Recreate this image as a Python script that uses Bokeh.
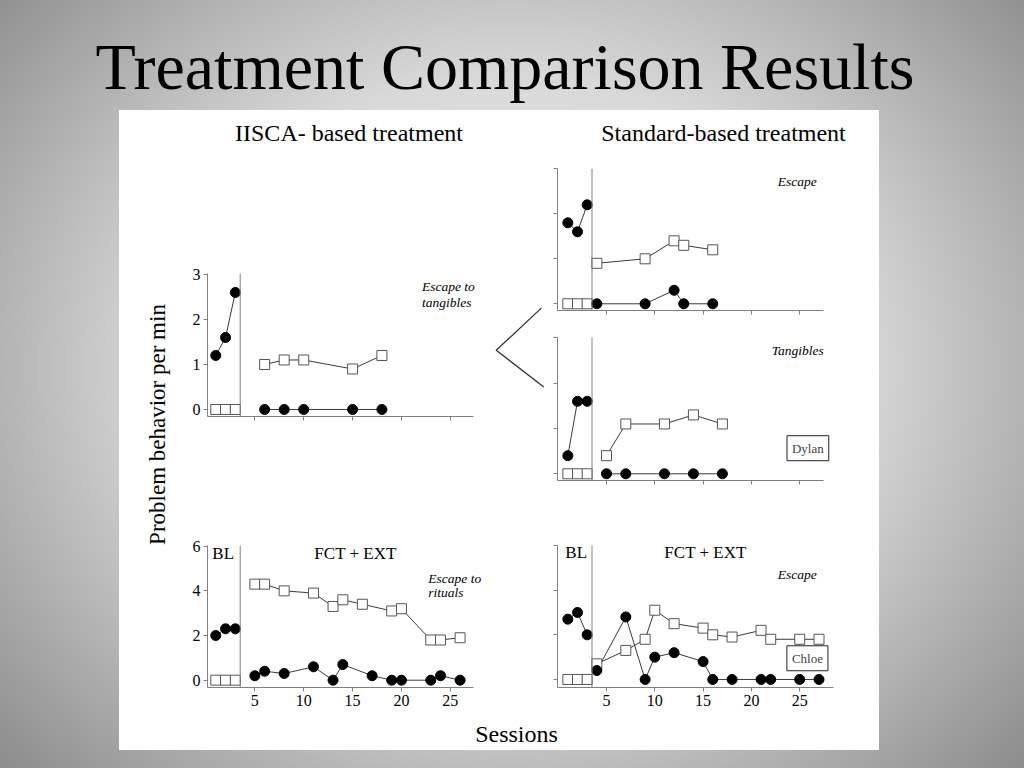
import numpy as np
from bokeh.plotting import figure
from bokeh.layouts import column, row
from bokeh.models import (Range1d, Span, Label, FixedTicker, Spacer,
                          CustomJSTickFormatter, GlobalInlineStyleSheet)
from bokeh.core.properties import value
from bokeh.embed import file_html
from bokeh.resources import INLINE

# ---------------- data (filled circles = problem behavior, open squares = FCR) -------------
x_ticks = [5, 10, 15, 20, 25]
yticks_small = [0, 1, 2, 3]
yticks_large = [0, 2, 4, 6]
phase_change = 3.5

# Dylan - IISCA-based treatment (escape to tangibles)
d_iisca_bl_x = [1, 2, 3]
d_iisca_bl_pb = [1.2, 1.6, 2.6]
d_iisca_bl_fcr = [0, 0, 0]
d_iisca_tx_x = [6, 8, 10, 15, 18]
d_iisca_tx_pb = [0, 0, 0, 0, 0]
d_iisca_tx_fcr = [1.0, 1.1, 1.1, 0.9, 1.2]

# Dylan - standard-based treatment, escape
d_esc_bl_x = [1, 2, 3]
d_esc_bl_pb = [1.8, 1.6, 2.2]
d_esc_bl_fcr = [0, 0, 0]
d_esc_tx_x = [4, 9, 12, 13, 16]
d_esc_tx_pb = [0, 0, 0.3, 0, 0]
d_esc_tx_fcr = [0.9, 1.0, 1.4, 1.3, 1.2]

# Dylan - standard-based treatment, tangibles
d_tan_bl_x = [1, 2, 3]
d_tan_bl_pb = [0.4, 1.6, 1.6]
d_tan_bl_fcr = [0, 0, 0]
d_tan_tx_x = [5, 7, 11, 14, 17]
d_tan_tx_pb = [0, 0, 0, 0, 0]
d_tan_tx_fcr = [0.4, 1.1, 1.1, 1.3, 1.1]

# Chloe - IISCA-based treatment (escape to rituals)
c_iisca_bl_x = [1, 2, 3]
c_iisca_bl_pb = [2.0, 2.3, 2.3]
c_iisca_bl_fcr = [0, 0, 0]
c_iisca_tx_fcr_x = [5, 6, 8, 11, 13, 14, 16, 19, 20, 23, 24, 26]
c_iisca_tx_fcr = [4.3, 4.3, 4.0, 3.9, 3.3, 3.6, 3.4, 3.1, 3.2, 1.8, 1.8, 1.9]
c_iisca_tx_pb_x = [5, 6, 8, 11, 13, 14, 17, 19, 20, 23, 24, 26]
c_iisca_tx_pb = [0.2, 0.4, 0.3, 0.6, 0, 0.7, 0.2, 0, 0, 0, 0.2, 0]

# Chloe - standard-based treatment (escape)
c_std_bl_x = [1, 2, 3]
c_std_bl_pb = [2.7, 3.0, 2.0]
c_std_bl_fcr = [0, 0, 0]
c_std_tx_x = [4, 7, 9, 10, 12, 15, 16, 18, 21, 22, 25, 27]
c_std_tx_fcr = [0.7, 1.3, 1.8, 3.1, 2.5, 2.3, 2.0, 1.9, 2.2, 1.8, 1.8, 1.8]
c_std_tx_pb = [0.4, 2.8, 0, 1.0, 1.2, 0.8, 0, 0, 0, 0, 0, 0]

# ---------------- styles ----------------
SERIF = "Liberation Serif"
AXIS = "#808080"
LINE = "#3a3a3a"


def clear(p):
    p.outline_line_color = None
    p.background_fill_alpha = 0
    p.border_fill_alpha = 0


def deco_fig(w, h):
    p = figure(width=w, height=h, x_range=Range1d(0, w), y_range=Range1d(h, 0),
               toolbar_location=None, output_backend="svg", min_border=0,
               x_axis_type=None, y_axis_type=None)
    clear(p)
    return p


def make_panel(w, h, mb, xr, xbounds, yr, yticks, show_x, show_y):
    p = figure(width=w, height=h, x_range=Range1d(*xr), y_range=Range1d(*yr),
               toolbar_location=None, output_backend="svg",
               min_border_left=mb[0], min_border_right=mb[1],
               min_border_top=mb[2], min_border_bottom=mb[3])
    p.grid.visible = False
    clear(p)
    for ax, show, ticks in ((p.xaxis[0], show_x, x_ticks), (p.yaxis[0], show_y, yticks)):
        ax.ticker = FixedTicker(ticks=ticks, minor_ticks=[])
        ax.axis_line_color = AXIS
        ax.axis_line_width = 1
        ax.major_tick_line_color = AXIS
        ax.major_tick_out = 4
        ax.major_tick_in = 0
        ax.minor_tick_out = 0
        ax.minor_tick_in = 0
        ax.major_label_text_font = SERIF
        ax.major_label_text_font_size = "16px"
        ax.major_label_text_color = "black"
        ax.major_label_standoff = 3
        if not show:
            ax.formatter = CustomJSTickFormatter(code="return ''")
            ax.major_label_text_font_size = "0px"
            ax.major_label_standoff = 0
    p.xaxis[0].bounds = xbounds
    p.add_layout(Span(location=phase_change, dimension="height",
                      line_color=AXIS, line_width=1))
    return p


def series(p, bl_x, bl_pb, bl_fcr, fcr_x, fcr, pb_x, pb):
    for xs, ys in ((bl_x, bl_pb), (bl_x, bl_fcr), (fcr_x, fcr), (pb_x, pb)):
        p.line(xs, ys, line_color=LINE, line_width=1)
    for xs, ys in ((bl_x, bl_fcr), (fcr_x, fcr)):
        p.scatter(xs, ys, marker="square", size=10, fill_color="white",
                  line_color="#555555", line_width=1)
    for xs, ys in ((bl_x, bl_pb), (pb_x, pb)):
        p.scatter(xs, ys, marker="circle", size=10, fill_color="black",
                  line_color="black")


def txt(p, x, y, s, size, italic=False, align="center", baseline="middle"):
    p.text(x=[x], y=[y], text=[s], text_font=value(SERIF), text_font_size=size,
           text_font_style="italic" if italic else "normal", text_color="black",
           text_align=align, text_baseline=baseline)


def box_label(p, x, y, s):
    p.add_layout(Label(x=x, y=y, text=s, text_font=SERIF, text_font_size="13px",
                       text_align="center", text_baseline="middle",
                       border_line_color="#222222", border_line_width=1,
                       background_fill_color="white", padding=5))


# ---------------- subplots ----------------
# top-left: Dylan IISCA
tl = make_panel(305, 330, (22, 5, 113, 74), (0.153, 28.6), (0.153, 27.35),
                (-0.156, 3.022), yticks_small, False, True)
series(tl, d_iisca_bl_x, d_iisca_bl_pb, d_iisca_bl_fcr,
       d_iisca_tx_x, d_iisca_tx_fcr, d_iisca_tx_x, d_iisca_tx_pb)
txt(tl, 22.1, 2.73, "Escape to", "13.5px", italic=True, align="left")
txt(tl, 22.1, 2.38, "tangibles", "13.5px", italic=True, align="left")

# top-right A: Dylan standard escape
tra = make_panel(334, 165, (12, 47, 8, 15), (-0.072, 28.4), (-0.072, 27.46),
                 (-0.149, 3.007), yticks_small, False, False)
series(tra, d_esc_bl_x, d_esc_bl_pb, d_esc_bl_fcr,
       d_esc_tx_x, d_esc_tx_fcr, d_esc_tx_x, d_esc_tx_pb)
txt(tra, 24.74, 2.72, "Escape", "13.5px", italic=True)

# top-right B: Dylan standard tangibles
trb = make_panel(334, 165, (12, 47, 12, 10), (-0.072, 28.4), (-0.072, 27.46),
                 (-0.148, 3.009), yticks_small, False, False)
series(trb, d_tan_bl_x, d_tan_bl_pb, d_tan_bl_fcr,
       d_tan_tx_x, d_tan_tx_fcr, d_tan_tx_x, d_tan_tx_pb)
txt(trb, 24.8, 2.72, "Tangibles", "13.5px", italic=True)
box_label(trb, 25.85, 0.565, "Dylan")

# bottom-left: Chloe IISCA
bl = make_panel(345, 230, (22, 45, 55, 33), (0.153, 28.6), (0.153, 27.35),
                (-0.327, 6.03), yticks_large, True, True)
series(bl, c_iisca_bl_x, c_iisca_bl_pb, c_iisca_bl_fcr,
       c_iisca_tx_fcr_x, c_iisca_tx_fcr, c_iisca_tx_pb_x, c_iisca_tx_pb)
txt(bl, 1.76, 5.67, "BL", "17px")
txt(bl, 15.3, 5.67, "FCT + EXT", "17px")
txt(bl, 22.75, 4.55, "Escape to", "13.5px", italic=True, align="left")
txt(bl, 22.75, 3.93, "rituals", "13.5px", italic=True, align="left")

# bottom-right: Chloe standard
br = make_panel(349, 230, (27, 46, 55, 33), (-0.072, 28.5), (-0.072, 28.5),
                (-0.36, 6.0), yticks_large, True, False)
series(br, c_std_bl_x, c_std_bl_pb, c_std_bl_fcr,
       c_std_tx_x, c_std_tx_fcr, c_std_tx_x, c_std_tx_pb)
txt(br, 1.86, 5.67, "BL", "17px")
txt(br, 15.25, 5.67, "FCT + EXT", "17px")
txt(br, 24.74, 4.71, "Escape", "13.5px", italic=True)
box_label(br, 25.8, 0.95, "Chloe")

# ---------------- decorations ----------------
title_fig = deco_fig(1024, 110)
txt(title_fig, 504.5, 66, "Treatment Comparison Results", "66px")

coltitle = deco_fig(760, 50)
txt(coltitle, 229.5, 22, "IISCA- based treatment", "24px")
txt(coltitle, 604, 22, "Standard-based treatment", "24px")

ylab = deco_fig(66, 560)
ylab.text(x=[38], y=[264], text=["Problem behavior per min"], angle=np.pi / 2,
          text_font=value(SERIF), text_font_size="23px", text_color="black",
          text_align="center", text_baseline="middle")

bracket = deco_fig(55, 330)
bracket_x = [51, 5.7, 53.3]
bracket_y = [79.3, 177.3, 261.7]
bracket.line(bracket_x, bracket_y, line_color="#333333", line_width=1.3)

sess = deco_fig(760, 30)
txt(sess, 397, 13, "Sessions", "24px")

panel = column(
    coltitle,
    row(ylab,
        column(row(tl, bracket, column(tra, trb, spacing=0), spacing=0),
               row(bl, br, spacing=0), spacing=0),
        spacing=0),
    sess, spacing=0, styles={"background-color": "white"})

layout = column(
    title_fig,
    row(Spacer(width=119, height=640), panel, Spacer(width=145, height=640), spacing=0),
    Spacer(width=1024, height=18),
    spacing=0)

layout.stylesheets = [GlobalInlineStyleSheet(css=(
    "html{min-height:100%;background:radial-gradient(ellipse 75% 85% at 50% 48%, "
    "#f4f4f4 0%, #d8d8d8 45%, #7c7c7c 100%);} body{background:transparent;}"))]

open("out.html", "w").write(file_html(layout, INLINE, title="Treatment Comparison Results"))
